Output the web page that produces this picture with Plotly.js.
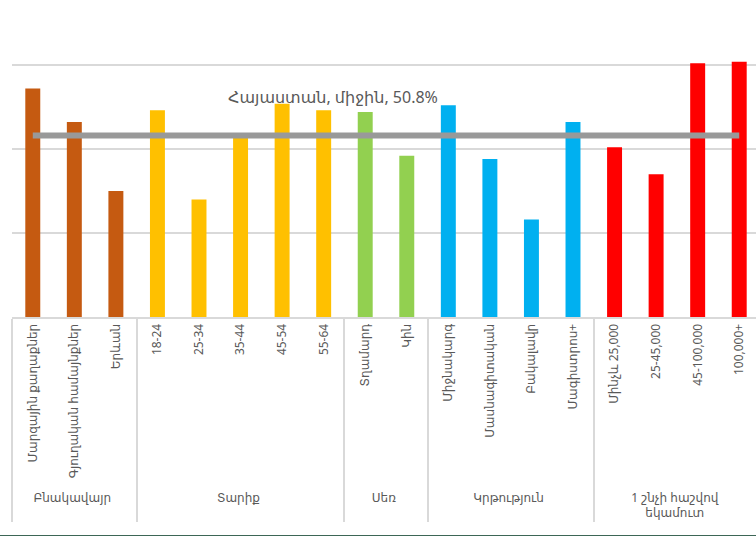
<!DOCTYPE html>
<html><head><meta charset="utf-8">
<script src="https://cdn.plot.ly/plotly-3.0.1.min.js"></script>
<style>
html,body{margin:0;padding:0;background:#3d6656;overflow:hidden;width:756px;height:536px}
#chart{width:760px;height:535px;background:#fff}
</style>
</head><body><div id="chart"></div>
<script>
// ---- data ----
const categories = [
  "Մարզային քաղաքներ","Գյուղական համայնքներ","Երևան",
  "18-24","25-34","35-44","45-54","55-64",
  "Տղամարդ","Կին",
  "Միջնակարգ","Մասնագիտական","Բակալավր","Մագիստրոս+",
  "Մինչև 25,000","25-45,000","45-100,000","100,000+"
];
const categoryGroups = [
  "Բնակավայր","Բնակավայր","Բնակավայր",
  "Տարիք","Տարիք","Տարիք","Տարիք","Տարիք",
  "Սեռ","Սեռ",
  "Կրթություն","Կրթություն","Կրթություն","Կրթություն",
  "1 շնչի հաշվով<br>եկամուտ","1 շնչի հաշվով<br>եկամուտ","1 շնչի հաշվով<br>եկամուտ","1 շնչի հաշվով<br>եկամուտ"
];
const values = [
  53.6, 51.6, 47.5,
  52.3, 47.0, 50.7, 52.7, 52.3,
  52.2, 49.6,
  52.6, 49.4, 45.8, 51.6,
  50.1, 48.5, 55.1, 55.2
];
const averageValue = 50.8;
const averageLabel = "Հայաստան, միջին, 50.8%";

// ---- styles ----
const groupColors = {
  "Բնակավայր": "#C55A11",
  "Տարիք": "#FFC000",
  "Սեռ": "#92D050",
  "Կրթություն": "#00B0F0",
  "1 շնչի հաշվով<br>եկամուտ": "#FF0000"
};
const FONT = "'Noto Sans', 'DejaVu Sans', sans-serif";

const x = [categoryGroups, categories];

const bars = {
  type: "bar",
  x: x,
  y: values,
  marker: {color: categoryGroups.map(g => groupColors[g])},
  hoverinfo: "y",
  showlegend: false
};
const avgLine = {
  type: "scatter",
  mode: "lines",
  x: x,
  y: categories.map(() => averageValue),
  line: {color: "#999999", width: 6},
  hoverinfo: "skip",
  showlegend: false
};

const layout = {
  width: 760, height: 535,
  margin: {l: 12, r: 0, t: 2, b: 218},
  paper_bgcolor: "#ffffff",
  plot_bgcolor: "#ffffff",
  font: {family: FONT, color: "#595959"},
  bargap: 0.64,
  xaxis: {
    type: "multicategory",
    tickangle: -90,
    tickfont: {family: FONT, size: 12, color: "#595959"},
    showdividers: true,
    dividercolor: "#d9d9d9",
    dividerwidth: 2,
    showline: true,
    linecolor: "#d9d9d9",
    linewidth: 2,
    ticks: "",
    showgrid: false,
    automargin: false,
    fixedrange: true
  },
  yaxis: {
    range: [40, 40 + 315/16.8],
    tick0: 40,
    dtick: 5,
    showticklabels: false,
    gridcolor: "#d9d9d9",
    gridwidth: 2,
    zeroline: false,
    showline: false,
    fixedrange: true
  },
  annotations: [{
    text: averageLabel,
    xref: "paper", yref: "paper",
    x: 0.4288, y: 0.698,
    xanchor: "center", yanchor: "middle",
    showarrow: false,
    font: {family: FONT, size: 16, color: "#595959"}
  }]
};

Plotly.newPlot("chart", [bars, avgLine], layout, {displayModeBar: false, staticPlot: true});
</script>
</body></html>
